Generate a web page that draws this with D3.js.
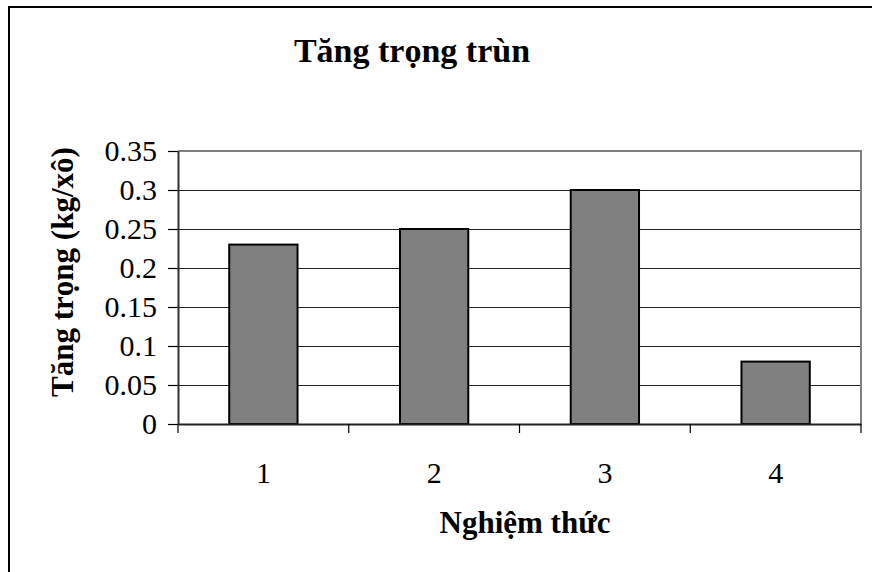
<!DOCTYPE html>
<html>
<head>
<meta charset="utf-8">
<script src="https://cdn.jsdelivr.net/npm/d3@7"></script>
<style>
  html, body { margin: 0; padding: 0; background: #fff; overflow: hidden; }
  svg { display: block; }
  text { font-family: "Liberation Serif", "Times New Roman", serif; fill: #000; }
</style>
</head>
<body>
<svg id="chart" width="872" height="572"></svg>
<script>
// Weight gain per treatment
const categories = ["1", "2", "3", "4"];
const values = [0.23, 0.25, 0.30, 0.08];
const yTicks = [0, 0.05, 0.1, 0.15, 0.2, 0.25, 0.3, 0.35];
const yTickLabels = ["0", "0.05", "0.1", "0.15", "0.2", "0.25", "0.3", "0.35"];
const titleText = "Tăng trọng trùn";
const xTitleText = "Nghiệm thức";
const yTitleText = "Tăng trọng (kg/xô)";

const svg = d3.select("#chart");
const W = 872, H = 572;
const plot = { left: 178, right: 861, top: 151, bottom: 424 };

// Chart frame (extends past the page on the right and bottom)
svg.append("rect")
  .attr("x", 9).attr("y", 7)
  .attr("width", W + 20).attr("height", H + 20)
  .attr("fill", "#fff").attr("stroke", "#000").attr("stroke-width", 2);

const x = d3.scaleBand()
  .domain(categories)
  .range([plot.left, plot.right])
  .paddingInner(0.6)
  .paddingOuter(0.3);

const y = d3.scaleLinear().domain([0, 0.35]).range([plot.bottom, plot.top]);

// Horizontal gridlines
svg.append("g")
  .selectAll("line")
  .data(yTicks.filter(t => t > 0 && t < 0.35))
  .join("line")
  .attr("x1", plot.left).attr("x2", plot.right)
  .attr("y1", d => Math.round(y(d)) + 0.5).attr("y2", d => Math.round(y(d)) + 0.5)
  .attr("stroke", "#222").attr("stroke-width", 1.2);

// Plot border (top and right)
svg.append("path")
  .attr("d", `M${plot.left},${plot.top}H${plot.right}V${plot.bottom}`)
  .attr("fill", "none").attr("stroke", "#808080").attr("stroke-width", 2);

// Bars
svg.append("g")
  .selectAll("rect")
  .data(values)
  .join("rect")
  .attr("x", (d, i) => x(categories[i]))
  .attr("y", d => y(d))
  .attr("width", x.bandwidth())
  .attr("height", d => y(0) - y(d))
  .attr("fill", "#808080")
  .attr("stroke", "#000")
  .attr("stroke-width", 2);

// Y axis
const yAxis = d3.axisLeft(y)
  .tickValues(yTicks)
  .tickFormat((d, i) => yTickLabels[i])
  .tickSizeInner(10)
  .tickSizeOuter(0)
  .tickPadding(11);
const gy = svg.append("g").attr("transform", `translate(${plot.left},0)`).call(yAxis);
gy.select(".domain").attr("stroke", "#333").attr("stroke-width", 2);
gy.selectAll(".tick line").attr("stroke", "#000").attr("stroke-width", 1.2);
gy.selectAll(".tick text")
  .attr("font-size", 30)
  .attr("font-family", "Liberation Serif, Times New Roman, serif")
  .attr("fill", "#000");

// X axis: ticks sit on category boundaries
const xAxis = d3.axisBottom(x).tickSize(0).tickPadding(38);
const gx = svg.append("g").attr("transform", `translate(0,${plot.bottom})`).call(xAxis);
gx.select(".domain").attr("stroke", "#222").attr("stroke-width", 2);
gx.selectAll(".tick text")
  .attr("font-size", 30)
  .attr("font-family", "Liberation Serif, Times New Roman, serif")
  .attr("fill", "#000");

const boundaries = categories.map(c => x(c) - x.step() * x.paddingOuter()).concat([plot.right]);
gx.selectAll(".bound")
  .data(boundaries)
  .join("line")
  .attr("class", "bound")
  .attr("x1", d => d).attr("x2", d => d)
  .attr("y1", 0).attr("y2", 9)
  .attr("stroke", "#000").attr("stroke-width", 1.2);

// Titles
svg.append("text")
  .attr("x", 412).attr("y", 62)
  .attr("text-anchor", "middle")
  .attr("font-weight", "bold")
  .attr("font-size", 34)
  .text(titleText);

svg.append("text")
  .attr("x", 525).attr("y", 533)
  .attr("text-anchor", "middle")
  .attr("font-weight", "bold")
  .attr("font-size", 31)
  .text(xTitleText);

svg.append("text")
  .attr("transform", "translate(73,272) rotate(-90)")
  .attr("text-anchor", "middle")
  .attr("font-weight", "bold")
  .attr("font-size", 31)
  .text(yTitleText);
</script>
</body>
</html>
